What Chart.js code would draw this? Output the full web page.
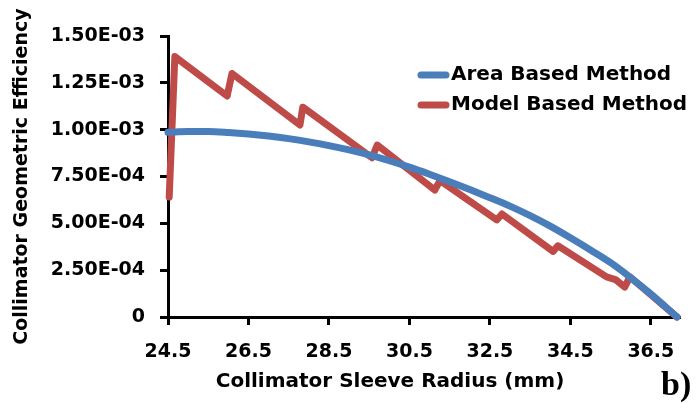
<!DOCTYPE html>
<html>
<head>
<meta charset="utf-8">
<script src="https://cdn.jsdelivr.net/npm/chart.js@4/dist/chart.umd.min.js"></script>
<style>
  html, body { margin: 0; padding: 0; background: #fff; }
  #wrap { width: 696px; height: 403px; }
</style>
</head>
<body>
<div id="wrap"><canvas id="graphCanvas" width="696" height="403"></canvas></div>
<script>
// area based method (blue)
var areaRadius = [24.5, 25.0, 25.5, 26.0, 26.5, 27.0, 27.5, 28.0, 28.5, 29.0, 29.5, 30.0, 30.5,
                  31.0, 31.5, 32.0, 32.5, 33.0, 33.5, 34.0, 34.5, 35.0, 35.5, 36.0, 36.5, 37.15];
var areaEff = [0.986e-3, 0.99e-3, 0.99e-3, 0.985e-3, 0.977e-3, 0.966e-3, 0.952e-3, 0.935e-3, 0.915e-3,
               0.892e-3, 0.865e-3, 0.834e-3, 0.8e-3, 0.762e-3, 0.722e-3, 0.68e-3, 0.637e-3,
               0.592e-3, 0.541e-3, 0.485e-3, 0.423e-3, 0.358e-3, 0.29e-3, 0.21e-3, 0.123e-3, 0];

// model based method (red)
var modelRadius = [24.53, 24.67, 25.97, 26.09, 27.78, 27.85, 29.57, 29.7, 31.13, 31.26,
                   32.67, 32.8, 34.07, 34.19, 35.4, 35.62, 35.85, 35.98, 37.15];
var modelEff = [0.64e-3, 1.39e-3, 1.18e-3, 1.30e-3, 1.025e-3, 1.12e-3, 0.85e-3, 0.918e-3, 0.678e-3, 0.728e-3,
                0.518e-3, 0.55e-3, 0.35e-3, 0.38e-3, 0.214e-3, 0.2e-3, 0.16e-3, 0.214e-3, 0];

var xTicks = [24.5, 26.5, 28.5, 30.5, 32.5, 34.5, 36.5];
var yTicks = [0, 2.5e-4, 5e-4, 7.5e-4, 1e-3, 1.25e-3, 1.5e-3];
var yTickLabels = ['0', '2.50E-04', '5.00E-04', '7.50E-04', '1.00E-03', '1.25E-03', '1.50E-03'];

function pairs(xs, ys) {
    var out = [];
    for (var i in xs) {
        out.push({x: xs[i], y: ys[i]});
    }
    return out;
}

var FONT = "'DejaVu Sans', sans-serif";

// legend, x title and the panel letter
var extras = {
    id: 'extras',
    afterDraw: function (chart) {
        var ctx = chart.ctx;
        var ds = chart.data.datasets;
        ctx.save();
        ctx.lineCap = 'round';
        ctx.lineWidth = 7;
        ctx.font = 'bold 20px ' + FONT;
        ctx.textBaseline = 'middle';
        ctx.textAlign = 'left';
        for (var i = 0; i < ds.length; i++) {
            var y = 75 + i * 30;
            ctx.strokeStyle = ds[i].borderColor;
            ctx.beginPath();
            ctx.moveTo(421, y);
            ctx.lineTo(446, y);
            ctx.stroke();
            ctx.fillStyle = '#000';
            ctx.fillText(ds[i].label, 451, y);
        }
        ctx.textAlign = 'center';
        ctx.fillText('Collimator Sleeve Radius (mm)', 390, 382);
        ctx.font = 'bold 34px "Liberation Serif", serif';
        ctx.textAlign = 'left';
        ctx.textBaseline = 'alphabetic';
        ctx.fillText('b)', 661, 395);
        ctx.restore();
    }
};

var chartdata = {
    datasets: [
        {
            label: 'Area Based Method',
            data: pairs(areaRadius, areaEff),
            borderColor: '#4A7EBB',
            backgroundColor: '#4A7EBB',
            borderWidth: 7,
            pointRadius: 0,
            cubicInterpolationMode: 'monotone',
            borderCapStyle: 'round',
            borderJoinStyle: 'round',
            clip: false
        },
        {
            label: 'Model Based Method',
            data: pairs(modelRadius, modelEff),
            borderColor: '#BE4B48',
            backgroundColor: '#BE4B48',
            borderWidth: 7,
            pointRadius: 0,
            tension: 0,
            borderCapStyle: 'round',
            borderJoinStyle: 'round',
            clip: false
        }
    ]
};

new Chart(document.getElementById('graphCanvas'), {
    type: 'line',
    data: chartdata,
    plugins: [extras],
    options: {
        responsive: false,
        animation: false,
        devicePixelRatio: 1,
        layout: { padding: { top: 36, right: 17, bottom: 0, left: 0 } },
        plugins: { legend: { display: false }, tooltip: { enabled: false } },
        scales: {
            x: {
                type: 'linear',
                min: 24.5,
                max: 37.2,
                afterBuildTicks: function (scale) {
                    scale.ticks = xTicks.map(function (v) { return {value: v}; });
                },
                afterFit: function (scale) { scale.height = 86; },
                ticks: {
                    color: '#000',
                    padding: 16,
                    maxRotation: 0,
                    font: { family: FONT, size: 19, weight: 'bold' },
                    callback: function (v) { return v.toFixed(1); }
                },
                grid: { drawOnChartArea: false, drawTicks: true, tickLength: 8, color: '#000', lineWidth: 3 },
                border: { display: true, color: '#000', width: 3 }
            },
            y: {
                min: 0,
                max: 1.5e-3,
                afterBuildTicks: function (scale) {
                    scale.ticks = yTicks.map(function (v) { return {value: v}; });
                },
                afterFit: function (scale) { scale.width = 168; },
                ticks: {
                    color: '#000',
                    padding: 15,
                    font: { family: FONT, size: 19, weight: 'bold' },
                    callback: function (v) { return yTickLabels[yTicks.indexOf(v)]; }
                },
                grid: { drawOnChartArea: false, drawTicks: true, tickLength: 8, color: '#000', lineWidth: 3 },
                border: { display: true, color: '#000', width: 3 },
                title: {
                    display: true,
                    text: 'Collimator Geometric Efficiency',
                    color: '#000',
                    padding: { top: 11, bottom: 0 },
                    font: { family: FONT, size: 19, weight: 'bold' }
                }
            }
        }
    }
});
</script>
</body>
</html>
